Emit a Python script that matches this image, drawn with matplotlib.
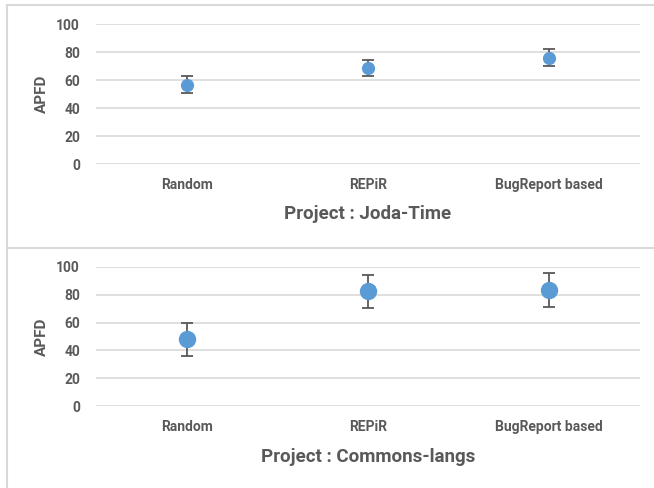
import numpy as np
import matplotlib.pyplot as plt
from matplotlib.lines import Line2D

plt.rcParams['font.family'] = ['Roboto', 'DejaVu Sans']

categories = ["Random", "REPiR", "BugReport based"]

joda_mean = [56.5, 68.5, 76.0]
joda_err = [6.0, 6.0, 6.0]

lang_mean = [48.0, 82.5, 83.5]
lang_err = [12.0, 12.0, 12.0]

projects = ["Project : Joda-Time", "Project : Commons-langs"]

text_col = "#595959"
grid_col = "#d9d9d9"
dot_col = "#5b9bd5"

W, H = 654, 488
fig = plt.figure(figsize=(W / 100, H / 100), dpi=100)

def fx(px):
  return px / W

def fy(py):
  return 1 - py / H

def panel(y0, y100, means, errs, msize, title, label_y, title_y):
  ax = fig.add_axes([fx(96), fy(y0), fx(640) - fx(96), fy(y100) - fy(y0)])
  x = np.arange(len(categories))
  ax.errorbar(x, means, yerr=errs, fmt="o", color=dot_col, markersize=msize,
              ecolor="#595959", elinewidth=1.3, capsize=4.5, capthick=1.3,
              zorder=3, clip_on=False)
  ax.set_xlim(-0.5, len(categories) - 0.5)
  ax.set_ylim(0, 100)
  ax.set_yticks(range(0, 101, 20))
  ax.yaxis.grid(True, color=grid_col, linewidth=1.2)
  ax.set_axisbelow(True)
  for s in ax.spines.values():
    s.set_visible(False)
  ax.tick_params(axis="y", length=0, pad=11.5, labelsize=10, labelcolor=text_col)
  ax.tick_params(axis="x", length=0, labelbottom=False)
  for lab in ax.get_yticklabels():
    lab.set_fontweight("bold")
  for i, c in enumerate(categories):
    fig.text(ax.transData.transform((i, 0))[0] / W, fy(label_y), c,
             ha="center", va="center", fontsize=10, fontweight="bold", color=text_col)
  fig.text(fx(42), fy((y0 + y100) / 2), "APFD", rotation=90, ha="center",
           va="center", fontsize=11, fontweight="bold", color=text_col)
  fig.text(fx(368), fy(title_y), title, ha="center", va="center",
           fontsize=13.5, fontweight="bold", color=text_col)
  return ax

panel(164, 24, joda_mean, joda_err, 8.5, projects[0], 185, 214)
panel(406, 267, lang_mean, lang_err, 11.5, projects[1], 427, 457)

# panel frames
for xs, ys in [((6.5, 6.5), (5, 488)), ((6.5, 654), (5, 5)), ((6.5, 654), (248, 248))]:
  fig.add_artist(Line2D([fx(v) for v in xs], [fy(v) for v in ys],
                        color=grid_col, linewidth=1.5))

fig.savefig("out.png", dpi=100)
